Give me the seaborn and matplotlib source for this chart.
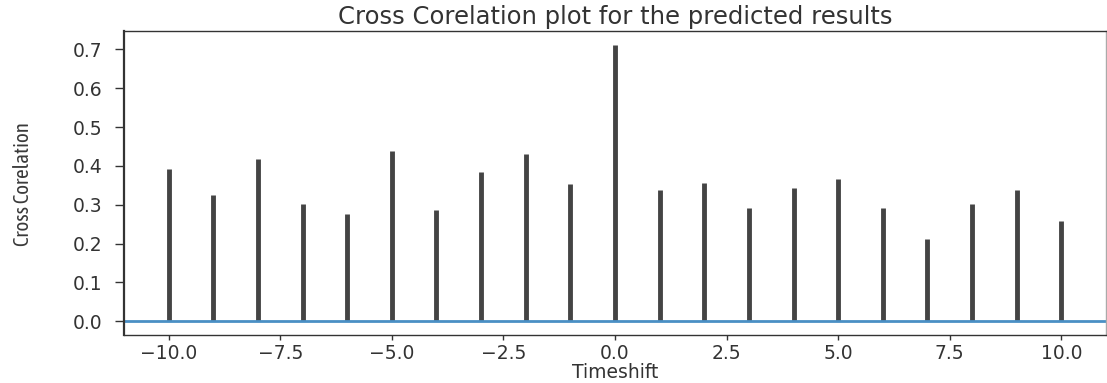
import numpy as np
import matplotlib
matplotlib.use("Agg")
import matplotlib.pyplot as plt
import seaborn as sns

lags = [-10, -9, -8, -7, -6, -5, -4, -3, -2, -1, 0, 1, 2, 3, 4, 5, 6, 7, 8, 9, 10]
xcorr_vals = [0.391, 0.324, 0.417, 0.302, 0.277, 0.438, 0.287, 0.385, 0.432, 0.353,
              0.712, 0.338, 0.356, 0.292, 0.344, 0.366, 0.292, 0.212, 0.302, 0.338, 0.259]
title = "Cross Corelation plot for the predicted results"
xlabel = "Timeshift"
ylabel = "Cross Corelation"

sns.set_theme(style="ticks")
plt.rcParams['font.family'] = ['DejaVu Sans']

fig = plt.figure(figsize=(11.07, 3.83), dpi=100)
ax = fig.add_axes([124/1107, 1 - 335/383, (1106 - 124)/1107, (335 - 31)/383])

ax.vlines(lags, 0, xcorr_vals, color="#444444", linewidth=3.5)
ax.axhline(0, color="#4a8fc4", linewidth=2)
ax.set_xlim(-11, 11)
ax.set_ylim(-0.0356, 0.7476)

ax.set_xticks(np.arange(-10, 10.1, 2.5))
ax.set_yticks(np.arange(0, 0.71, 0.1))
ax.tick_params(axis="both", labelsize=13.5, colors="#333333", width=1, direction="out")
ax.tick_params(axis="y", length=6.5, pad=9)
ax.tick_params(axis="x", length=3.5, pad=3)
for sp in ax.spines.values():
    sp.set_color("#333333")
    sp.set_linewidth(1)
ax.spines["left"].set_linewidth(1.6)
ax.spines["right"].set_color("#aaaaaa")

ax.set_title(title, fontsize=17.5, color="#333333", pad=5)
ax.set_xlabel(xlabel, fontsize=13.5, color="#333333", labelpad=0)
ax.set_ylabel(ylabel, fontsize=15, color="#3a3a3a", weight="normal",
              family=['Asap Condensed', 'DejaVu Sans'])
ax.yaxis.set_label_coords(-91/982, (335 - 184) / 304)

fig.savefig("out.png", dpi=100)
